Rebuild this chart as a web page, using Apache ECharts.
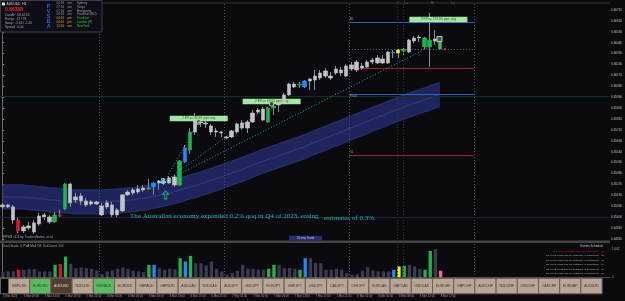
<!DOCTYPE html>
<html><head><meta charset="utf-8">
<script src="https://cdn.jsdelivr.net/npm/echarts@6/dist/echarts.min.js"></script>
<style>html,body{margin:0;padding:0;background:#0a0a0f;}#c{width:625px;height:301px;}</style>
</head><body><div id="c"></div>
<script>
// ---------------- DATA ----------------
const opens=[0.65085,0.65101,0.65085,0.64977,0.64887,0.64928,0.64878,0.64944,0.65019,0.65002,
0.64961,0.65019,0.65068,0.65274,0.65142,0.65175,0.65134,0.65109,0.65126,0.65093,
0.65085,0.65101,0.65019,0.65052,0.65184,0.65200,0.65233,0.65225,0.65233,0.65250,
0.65283,0.65299,0.65283,0.65332,0.65266,0.65456,0.65555,0.65703,0.65786,0.65778,
0.65753,0.65712,0.65703,0.65662,0.65662,0.65703,0.65736,0.65786,0.65786,0.65868,
0.65893,0.65786,0.65901,0.65926,0.65943,0.66009,0.66099,0.66091,0.66075,0.66124,
0.66132,0.66190,0.66165,0.66165,0.66190,0.66215,0.66165,0.66223,0.66281,0.66231,
0.66240,0.66281,0.66314,0.66273,0.66273,0.66363,0.66355,0.66372,0.66363,0.66454,
0.66487,0.66479,0.66405,0.66454,0.66446];
const closes=[0.65101,0.65085,0.64977,0.64887,0.64920,0.64911,0.64953,0.65010,0.65002,0.64961,
0.65019,0.65010,0.65274,0.65118,0.65167,0.65134,0.65101,0.65126,0.65109,0.65019,
0.65118,0.65019,0.65060,0.65184,0.65208,0.65225,0.65208,0.65241,0.65241,0.65283,
0.65299,0.65283,0.65324,0.65266,0.65464,0.65571,0.65703,0.65802,0.65778,0.65769,
0.65703,0.65703,0.65695,0.65654,0.65712,0.65769,0.65778,0.65736,0.65860,0.65885,
0.65802,0.65901,0.65918,0.65943,0.66009,0.66099,0.66075,0.66099,0.66124,0.66141,
0.66165,0.66149,0.66207,0.66149,0.66223,0.66190,0.66248,0.66256,0.66215,0.66248,
0.66281,0.66297,0.66273,0.66306,0.66363,0.66355,0.66380,0.66388,0.66462,0.66479,
0.66479,0.66405,0.66462,0.66471,0.66388];
const lows=[0.65068,0.65076,0.64944,0.64870,0.64870,0.64895,0.64862,0.64928,0.64977,0.64944,
0.64953,0.64994,0.65060,0.65085,0.65118,0.65101,0.65085,0.65093,0.65101,0.65010,
0.65068,0.65002,0.65002,0.65043,0.65175,0.65184,0.65192,0.65208,0.65225,0.65184,
0.65225,0.65266,0.65274,0.65250,0.65258,0.65448,0.65522,0.65679,0.65745,0.65736,
0.65679,0.65662,0.65662,0.65646,0.65654,0.65687,0.65720,0.65695,0.65778,0.65852,
0.65794,0.65778,0.65844,0.65868,0.65934,0.66000,0.66066,0.66066,0.66066,0.66050,
0.66050,0.66132,0.66149,0.66132,0.66174,0.66165,0.66157,0.66207,0.66198,0.66215,
0.66223,0.66264,0.66264,0.66264,0.66264,0.66314,0.66314,0.66330,0.66355,0.66438,
0.66446,0.66388,0.66240,0.66421,0.66380];
const highs=[0.65118,0.65109,0.65101,0.65002,0.64936,0.64961,0.64977,0.65035,0.65035,0.65019,
0.65043,0.65060,0.65283,0.65283,0.65200,0.65200,0.65159,0.65142,0.65134,0.65118,
0.65142,0.65126,0.65076,0.65192,0.65225,0.65241,0.65266,0.65266,0.65316,0.65291,
0.65307,0.65316,0.65340,0.65349,0.65472,0.65596,0.65736,0.65860,0.65819,0.65794,
0.65769,0.65736,0.65712,0.65670,0.65720,0.65778,0.65802,0.65802,0.65885,0.65901,
0.65910,0.65910,0.65934,0.65967,0.66025,0.66108,0.66116,0.66116,0.66132,0.66149,
0.66215,0.66215,0.66231,0.66198,0.66248,0.66240,0.66264,0.66281,0.66297,0.66273,
0.66297,0.66314,0.66339,0.66339,0.66372,0.66380,0.66388,0.66396,0.66471,0.66495,
0.66504,0.66487,0.66685,0.66545,0.66479];
// PVA candle class: n normal, g climax bull, r climax bear, b rising volume bull, y rising volume other
const pvaTypes='nnnrnnnnnngrgnnnnnnnnnnnnnnngbnnnngbgnnnnnnnnnnnnnnggnnnngbnnnnnnnnnnnnnnnnbygnnnggn'.split('');
const tickVolume=[175,212,212,275,275,300,300,212,212,212,
462,488,775,500,338,362,338,312,250,112,
212,250,312,362,312,238,212,188,462,462,
338,275,312,300,712,588,800,525,525,438,
588,312,212,88,150,238,462,312,312,275,
275,312,462,462,338,338,312,275,712,712,
525,525,275,275,312,275,150,88,112,238,
375,250,212,212,212,275,400,425,462,400,
312,275,988,1062,238];
const maMid=[0.65167,0.65167,0.65167,0.65167,0.65167,0.65159,0.65159,0.65151,0.65151,0.65142,
0.65142,0.65134,0.65134,0.65130,0.65126,0.65126,0.65126,0.65126,0.65126,0.65126,
0.65128,0.65131,0.65134,0.65134,0.65142,0.65142,0.65151,0.65155,0.65163,0.65172,
0.65180,0.65192,0.65200,0.65212,0.65222,0.65235,0.65250,0.65260,0.65274,0.65288,
0.65303,0.65318,0.65332,0.65349,0.65364,0.65378,0.65394,0.65411,0.65428,0.65445,
0.65462,0.65477,0.65491,0.65507,0.65522,0.65537,0.65552,0.65566,0.65583,0.65600,
0.65618,0.65635,0.65652,0.65669,0.65686,0.65703,0.65721,0.65738,0.65755,0.65772,
0.65789,0.65807,0.65824,0.65840,0.65858,0.65875,0.65892,0.65908,0.65924,0.65939,
0.65953,0.65968,0.65983,0.65999,0.66014];
const bandHalf=0.00100;
const timeLabels=['5 Mar 2024','5 Mar 09:00','5 Mar 13:00','5 Mar 17:00','5 Mar 21:00','6 Mar 01:00','6 Mar 05:00','6 Mar 09:00','6 Mar 13:00','6 Mar 17:00','6 Mar 21:00','7 Mar 01:00','7 Mar 05:00','7 Mar 09:00','7 Mar 13:00','7 Mar 17:00','7 Mar 21:00','8 Mar 01:00','8 Mar 05:00','8 Mar 09:00','8 Mar 13:00','8 Mar 17:00'];
const priceMin=0.6482, priceMax=0.6671, priceStep=0.0009;
const volMax=1062;
const levelPrices=[0.66512,0.66273,0.66034,0.65786,0.65547,0.65316,0.65076];
const pivotPrices=[0.66611,0.66232,0.66017,0.65514];
const pivotNames=['R1','','Pivot','S1'];
const dayStarts=[18.5,42.5,66.5,90.5];
const sessionMarkBars=[75.6,76.8];
const sessionTags=[[75.8,'7'],[77.4,'Lo'],[82.4,'Hi'],[86.4,'Lo']];
const trendStart=[31,0.65291];
const trendEnds=[[37.67,0.65786],[51.67,0.65935],[83.8,0.66446]];
const epBoxes=[[37.67,0.65815,'2 EP== 83.38 pips avg'],[51.67,0.65955,'2 EP== 69.53 pips avg'],[83.7,0.66632,'2 EP== 123.80 pips avg']];
const epMarks=[[37.67,0.65786],[51.67,0.65935]];
const lastMark=[83.9,0.66471];
const swingMark=[30.8,0.65291];
const arrowMark=[31.3,0.65184];
const buttons=['GBPUSD','EURUSD','AUDUSD','NZDUSD','EURAUD','EURNZD','GBPAUD','GBPNZD','AUDCAD','NZDCAD','AUDJPY','NZDJPY','EURJPY','GBPJPY','USDJPY','CADJPY','CHFJPY','EURCAD','GBPCAD','USDCAD','EURCHF','GBPCHF','AUDCHF','NZDCHF','USDCHF','CADCHF','EURGBP','AUDNZD'];
const greenButtons=['EURUSD','EURAUD'];
const activeButton='AUDUSD';
const infoLines=['Candle : 00:42:05','Range : 47 / 78','Swap : -3.65 / -1.30','Spread : 0.00'];
const sessions=[['02:16','am','Sydney'],['07:16','am','Tokyo'],['07:16','am','Hongkong'],['09:16','am','Frankfurt (EU)'],['04:16','pm','Frankfurt'],['04:16','pm','London (E)'],['10:16','am','NewYork']];
const events=['0h 46m since (USD) Unemployment Rate    [1]','No event in this pair per setting(s) or scheduled    [2]','No event in this pair per setting(s) or scheduled    [3]','No event in this pair per setting(s) or scheduled    [4]','No event in this pair per setting(s) or scheduled    [5]','No event in this pair per setting(s) or scheduled    [6]'];
const headline=['The Australian economy expanded 0.2% qoq in Q4 of 2023, easing','estimates of 0.3%.'];

// ---------------- BUILD ----------------
const n=opens.length, barCount=117;
const cats=Array.from({length:barCount},(_,i)=>String(i));
const bodyCol={n:'#c2c2cb',g:'#22b34c',r:'#e3162e',b:'#1e8cff',y:'#f2f200'};
const volCol={n:'#393c51',g:'#22b34c',r:'#d8142c',b:'#1e8cff',y:'#f2f200'};
const wickData=opens.map((o,i)=>[o,closes[i],lows[i],highs[i]]);
const bodyData=opens.map((o,i)=>{const c=closes[i],col=bodyCol[pvaTypes[i]];return {value:[o,c,Math.min(o,c),Math.max(o,c)],itemStyle:{color:col,color0:col,borderColor:col,borderColor0:col}};});
const volData=tickVolume.map((v,i)=>({value:v,itemStyle:{color:volCol[pvaTypes[i]]}}));
const lastPrice=closes[n-1];
const isTimeTick=(i)=>i%4===0&&(i/4)<timeLabels.length;

const levelColors=['#0b3320','#332f10','#10284a','#232327','#0b3320','#232327','#10284a'];
const pivotColors=['#2a62b8','#a82020','#2a62b8','#a82020'];
const pivotLabelPos=['insideStartTop','insideStartTop','insideStartBottom','insideStartTop'];

const levelLines=levelPrices.map((p,k)=>({yAxis:p,lineStyle:{color:levelColors[k],width:1,type:'solid'}}));
const segLines=[];
pivotPrices.forEach((p,k)=>segLines.push([{coord:[66.5,p],lineStyle:{color:pivotColors[k],width:1,type:'solid'},label:{show:!!pivotNames[k],formatter:pivotNames[k],position:pivotLabelPos[k],fontSize:3,color:'#9a9a9a',distance:1}},{coord:[90.5,p],lineStyle:{color:pivotColors[k],width:1,type:'solid'}}]));
trendEnds.forEach(e=>segLines.push([{coord:trendStart,lineStyle:{color:'#1aa89a',width:1,type:[1,2]}},{coord:e,lineStyle:{color:'#1aa89a',width:1,type:[1,2]}}]));
segLines.push([{coord:[66.5,lastPrice],lineStyle:{color:'#6a6a6a',width:1,type:[1,2]}},{coord:[90.5,lastPrice],lineStyle:{color:'#6a6a6a',width:1,type:[1,2]}}]);
const tagLine=[{yAxis:lastPrice,lineStyle:{opacity:0},label:{show:true,position:'end',formatter:lastPrice.toFixed(5),backgroundColor:'#c9c9c9',color:'#111',fontSize:3,padding:[1,1.5],distance:1.5}}];

const mainPoints=[];
epBoxes.forEach(b=>mainPoints.push({coord:[b[0],b[1]],symbol:'rect',symbolSize:[58,5.5],itemStyle:{color:'#a6e6a6'},label:{show:true,position:'inside',formatter:b[2],fontSize:3.3,color:'#2f5f2f'}}));
epMarks.forEach(m=>mainPoints.push({coord:m,symbol:'circle',symbolSize:4.5,itemStyle:{color:'#1838a8',borderColor:'#e6d21e',borderWidth:1},label:{show:false}}));
mainPoints.push({coord:lastMark,symbol:'rect',symbolSize:5,itemStyle:{color:'#1050e0',borderColor:'#f0e020',borderWidth:1},label:{show:false}});
mainPoints.push({coord:swingMark,symbol:'circle',symbolSize:1,itemStyle:{color:'rgba(0,0,0,0)'},label:{show:true,position:'inside',formatter:'8',fontSize:9,fontWeight:'bold',color:'#3de0f2'}});
mainPoints.push({coord:arrowMark,symbol:'path://M5 0 L10 5 L7 5 L7 12 L3 12 L3 5 L0 5 Z',symbolSize:[6,8],itemStyle:{color:'rgba(0,0,0,0)',borderColor:'#1fae6e',borderWidth:1},label:{show:false}});
mainPoints.push({coord:[84.85,lastPrice],symbol:'path://M0 5 L10 0 L10 10 Z',symbolSize:[3,3],itemStyle:{color:'#e02020'},label:{show:false}});

const overlayLines=[];
dayStarts.forEach(x=>overlayLines.push({xAxis:x,lineStyle:{color:'#4e4e56',width:1,type:[1,2]}}));
sessionMarkBars.forEach(x=>overlayLines.push({xAxis:x,lineStyle:{color:'#34343a',width:1,type:[1,2]}}));

// graphics (UI panels / texts)
const g=[];
const FF='"Liberation Sans", Arial, sans-serif';
function T(x,y,text,size,color,extra){g.push({type:'text',x:x,y:y,z:100,silent:true,style:Object.assign({text:text,fontSize:size,fill:color,fontFamily:FF,verticalAlign:'top'},extra||{})});}
function R(x,y,w,h,fill,stroke,z){g.push({type:'rect',z:z||99,silent:true,shape:{x:x,y:y,width:w,height:h},style:{fill:fill,stroke:stroke||null,lineWidth:stroke?1:0}});}
R(0,2.5,610,1,'#333338');
R(0,240.5,610,2.5,'#454548');
// info panel
R(0.5,0.5,101.5,31.5,'#0e0f16','#3c3c44');
R(2,2.5,3,3,'#d8d8d8');
T(6.5,2.3,'AUDUSD  H1',3.3,'#d8d8d8');
T(5,7.2,lastPrice.toFixed(5),5,'#ff2236',{fontWeight:'bold'});
infoLines.forEach((s,k)=>T(5,13.8+k*4.1,s,3.1,'#a8a8a8'));
'PVSBA'.split('').forEach((c,k)=>T(48.5,3.6+k*5,c,5.2,'#2f66f0',{fontWeight:'bold',align:'center'}));
sessions.forEach((s,k)=>{const y=1.8+k*3.75;const open=k>=4;T(56.5,y,s[0],3.1,open?'#d9a040':'#9a9a9a');T(67.5,y,s[1],3.1,open?'#d9a040':'#9a9a9a');T(77,y,s[2],3.1,open?'#32c040':'#9a9a9a');});
T(3,235.3,'FPSM v1.4 by TradersNotes, et al.',3.3,'#a8a8a8');
R(289,235.7,33,5,'#2b2e72');
T(305.5,236.3,'50 sma Trend',2.8,'#c8c8ec',{align:'center'});
T(2,244.3,'Chart Scale: 4, PVA Ma4 Off, TickCount: 153',3.1,'#a8a8a8');
T(130,212.8,headline[0],7,'#26b7b0',{fontFamily:'"Liberation Serif", "DejaVu Serif", serif'});
T(324,214.6,headline[1],7,'#26b7b0',{fontFamily:'"Liberation Serif", "DejaVu Serif", serif'});
T(603,244.8,'Events Schedule',3,'#c8c8c8',{align:'right'});
events.forEach((s,k)=>T(604,249.6+k*4.5,s,2.5,k===0?'#e0203a':'#b4b4b4',{align:'right'}));
R(0.5,278.3,8,15.5,'#050506','#6b6058',98);
const bw=21.2;
buttons.forEach((b,k)=>{const x=8.5+k*bw;let fill='#b8a797',tc='#3c3128';if(greenButtons.indexOf(b)>=0){fill='#5db863';tc='#1f4a24';}if(b===activeButton){fill='#4e3d31';tc='#e0d6cc';}
  R(x,278.3,bw,15.5,fill,'#6b6058',98);T(x+bw/2,283.9,b,3.5,tc,{align:'center'});});

const option={
  backgroundColor:'#0a0a0f',animation:false,
  textStyle:{fontFamily:FF},
  grid:[{left:0,right:15,top:10,height:229},{left:0,right:15,top:249,height:28},{left:0,right:15,top:3,height:275}],
  xAxis:[
    {type:'category',gridIndex:0,data:cats,show:false,boundaryGap:true},
    {type:'value',gridIndex:0,min:-0.5,max:barCount-0.5,show:false},
    {type:'category',gridIndex:1,data:cats,boundaryGap:true,offset:17,
      axisLine:{show:true,lineStyle:{color:'#4a4a4e'}},
      axisTick:{show:true,alignWithLabel:true,interval:(i)=>isTimeTick(i),length:2,lineStyle:{color:'#8a8a8a'}},
      axisLabel:{interval:(i)=>isTimeTick(i),formatter:(v,i)=>timeLabels[i/4]||'',fontSize:2.8,color:'#a8a8a8',align:'left',margin:0.8}},
    {type:'value',gridIndex:2,min:-0.5,max:barCount-0.5,show:false}
  ],
  yAxis:[
    {type:'value',gridIndex:0,position:'right',min:priceMin,max:priceMax,interval:priceStep,splitLine:{show:false},
      axisLine:{show:false},axisTick:{show:true,length:1.5,lineStyle:{color:'#8a8a8a'}},
      axisLabel:{fontSize:3,color:'#c4c4c4',margin:2,formatter:(v)=>v.toFixed(5)}},
    {type:'value',gridIndex:1,position:'right',min:0,max:volMax,interval:volMax,splitLine:{show:false},
      axisLine:{show:false},axisTick:{show:false},axisLabel:{fontSize:3,color:'#a8a8a8',margin:2}},
    {type:'value',gridIndex:2,position:'right',min:0,max:1,splitLine:{show:false},axisTick:{show:false},axisLabel:{show:false},
      axisLine:{show:true,lineStyle:{color:'#6a6a6e'}}}
  ],
  series:[
    {type:'scatter',xAxisIndex:3,yAxisIndex:2,z:1,symbolSize:0,silent:true,
      data:sessionTags.map(t=>({value:[t[0],1],label:{show:true,formatter:t[1],position:'inside',fontSize:3.3,color:'#a8a8a8'}})),
      markLine:{silent:true,symbol:['none','none'],label:{show:false},data:overlayLines}},
    {type:'scatter',xAxisIndex:1,yAxisIndex:0,data:[[0,maMid[0]]],symbolSize:0,silent:true,z:1,
      markLine:{silent:true,symbol:['none','none'],label:{show:false},data:levelLines}},
    {type:'line',xAxisIndex:0,yAxisIndex:0,data:maMid.map(v=>+(v-bandHalf).toFixed(5)),stack:'band',symbol:'none',smooth:0.3,silent:true,
      lineStyle:{color:'#343980',width:0.8},z:2},
    {type:'line',xAxisIndex:0,yAxisIndex:0,data:maMid.map(()=>bandHalf*2),stack:'band',symbol:'none',smooth:0.3,silent:true,
      lineStyle:{color:'#343980',width:0.8},areaStyle:{color:'#20245c',opacity:1},z:2},
    {type:'line',xAxisIndex:0,yAxisIndex:0,data:maMid,symbol:'none',smooth:0.3,silent:true,lineStyle:{color:'#464c9e',width:0.6},z:2},
    {type:'scatter',xAxisIndex:1,yAxisIndex:0,data:[[0,maMid[0]]],symbolSize:0,silent:true,z:3,
      markLine:{silent:true,symbol:['none','none'],label:{show:false},data:segLines.concat(tagLine)},
      markPoint:{silent:true,data:mainPoints}},
    {type:'candlestick',xAxisIndex:0,yAxisIndex:0,data:wickData,barWidth:1,silent:true,z:4,
      itemStyle:{color:'#8e8e98',color0:'#8e8e98',borderColor:'#8e8e98',borderColor0:'#8e8e98',borderWidth:1}},
    {type:'candlestick',xAxisIndex:0,yAxisIndex:0,data:bodyData,barWidth:3.9,silent:true,z:5,itemStyle:{borderWidth:0.6}},
    {type:'bar',xAxisIndex:2,yAxisIndex:1,data:volData,barWidth:3.3,silent:true}
  ],
  graphic:g
};
const chart=echarts.init(document.getElementById('c'),null,{renderer:'canvas',width:625,height:301});
chart.setOption(option);
</script>
</body></html>
